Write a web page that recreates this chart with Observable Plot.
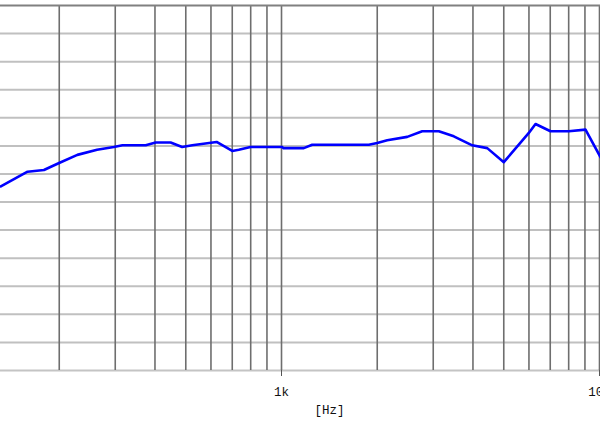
<!DOCTYPE html>
<html>
<head>
<meta charset="utf-8">
<script src="https://cdn.jsdelivr.net/npm/d3@7"></script>
<script src="https://cdn.jsdelivr.net/npm/@observablehq/plot@0.6"></script>
<style>
  html, body { margin: 0; padding: 0; background: #fff; overflow: hidden; }
  #chart svg { display: block; }
</style>
</head>
<body>
<div id="chart"></div>
<script>
// Frequency response (Hz, dB)
const freqs = [131, 159, 179, 199, 228, 263, 297, 316, 374, 402, 448, 487, 524, 625, 700, 734, 799, 1005, 1015, 1175, 1249, 1882, 2000, 2150, 2485, 2770, 3124, 3482, 3979, 4436, 5002, 5995, 6292, 7015, 8006, 9037, 10070];
const levels = [62.8, 65.4, 65.7, 66.9, 68.4, 69.3, 69.8, 70.1, 70.1, 70.6, 70.6, 69.8, 70.1, 70.7, 69.1, 69.3, 69.8, 69.8, 69.6, 69.6, 70.2, 70.2, 70.5, 71.0, 71.6, 72.6, 72.6, 71.7, 70.1, 69.6, 67.1, 72.3, 73.9, 72.6, 72.6, 72.9, 68.0];

// Axis / grid definitions
const xDomain = [130.7, 10073];
const yDomain = [30, 95];
const gridFreqs = [200, 300, 400, 500, 600, 700, 800, 900, 1000, 2000, 3000, 4000, 5000, 6000, 7000, 8000, 9000, 10000];
const gridLevels = [35, 40, 45, 50, 55, 60, 65, 70, 75, 80, 85, 90];
const tickFreqs = [1000, 10000];
const tickLabels = ["1k", "10k"];
const axisUnit = "[Hz]";

const data = freqs.map((f, i) => ({f, db: levels[i]}));

const chart = Plot.plot({
  width: 600,
  height: 421,
  marginLeft: 0,
  marginRight: 0,
  marginTop: 5,
  marginBottom: 51,
  style: {fontFamily: "'Liberation Mono', monospace", fontSize: "12px", color: "#000", background: "#fff"},
  x: {type: "log", domain: xDomain, axis: null},
  y: {domain: yDomain, axis: null},
  marks: [
    Plot.ruleY(gridLevels, {stroke: "#c0c0c0", strokeWidth: 2}),
    Plot.ruleY([yDomain[0]], {stroke: "#c4c4c4", strokeWidth: 2}),
    Plot.ruleX(gridFreqs, {stroke: "#6e6e6e", strokeWidth: 1.6}),
    Plot.ruleY([yDomain[1]], {stroke: "#808080", strokeWidth: 2}),
    Plot.line(data, {x: "f", y: "db", stroke: "#0000ff", strokeWidth: 2.6, strokeLinejoin: "round"}),
    Plot.axisX(tickFreqs, {
      tickSize: 6,
      tickPadding: 11,
      stroke: "#555",
      tickFormat: (d) => tickLabels[tickFreqs.indexOf(d)],
      label: null,
      fontSize: 12.5,
      fill: "#111"
    }),
    Plot.text([axisUnit], {frameAnchor: "bottom", dx: 29, dy: 43, fontSize: 12.5, fill: "#111"})
  ]
});
document.getElementById("chart").appendChild(chart);
</script>
</body>
</html>
